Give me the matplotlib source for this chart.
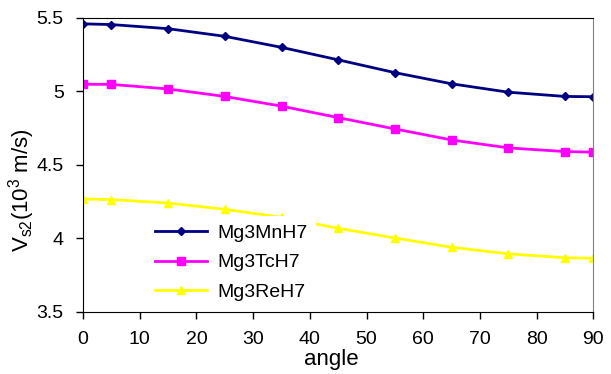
import matplotlib.pyplot as plt

plt.rcParams['font.family'] = ['Liberation Sans', 'DejaVu Sans']
plt.rcParams['mathtext.fontset'] = 'custom'
plt.rcParams['mathtext.rm'] = 'Liberation Sans'

angle = [0, 5, 15, 25, 35, 45, 55, 65, 75, 85, 90]
mn = [5.46, 5.455, 5.427, 5.375, 5.30, 5.215, 5.128, 5.052, 4.995, 4.966, 4.964]
tc = [5.049, 5.048, 5.017, 4.966, 4.900, 4.822, 4.745, 4.670, 4.616, 4.591, 4.587]
re = [4.269, 4.264, 4.241, 4.198, 4.144, 4.069, 4.003, 3.940, 3.895, 3.869, 3.865]

fig = plt.figure(figsize=(6.11, 3.74), dpi=100)
ax = fig.add_axes([0.136, 0.166, 0.835, 0.786])

ax.plot(angle, mn, color='#000080', marker='D', markersize=4, linewidth=2, label='Mg3MnH7')
ax.plot(angle, tc, color='#FF00FF', marker='s', markersize=6, linewidth=2, label='Mg3TcH7')
ax.plot(angle, re, color='#FFFF00', marker='^', markersize=6, linewidth=2, label='Mg3ReH7')

ax.set_xlim(0, 90)
ax.set_ylim(3.5, 5.5)
ax.set_xticks(range(0, 91, 10))
ax.set_yticks([3.5, 4, 4.5, 5, 5.5])
ax.set_yticklabels(['3.5', '4', '4.5', '5', '5.5'])
ax.tick_params(direction='out', length=5, labelsize=14, width=1, pad=9)
ax.tick_params(axis='y', pad=9)
ax.spines['right'].set_color('#808080')
ax.set_xlabel('angle', fontsize=16)
ax.set_ylabel('V$_{\\mathrm{s2}}$(10$^{\\mathrm{3}}$ m/s)', fontsize=16)
ax.xaxis.set_label_coords(0.486, -0.125, transform=ax.transAxes)
ax.yaxis.set_label_coords(-0.09, 0.415, transform=ax.transAxes)

leg = ax.legend(loc='upper left', bbox_to_anchor=(0.125, 0.325), frameon=True, fontsize=14,
                handlelength=2.7, handletextpad=0.55, labelspacing=0.62, borderpad=0.4,
                borderaxespad=0)
leg.get_frame().set_edgecolor('none')
leg.get_frame().set_facecolor('white')
leg.get_frame().set_alpha(1)

fig.savefig('out.png', dpi=100)
